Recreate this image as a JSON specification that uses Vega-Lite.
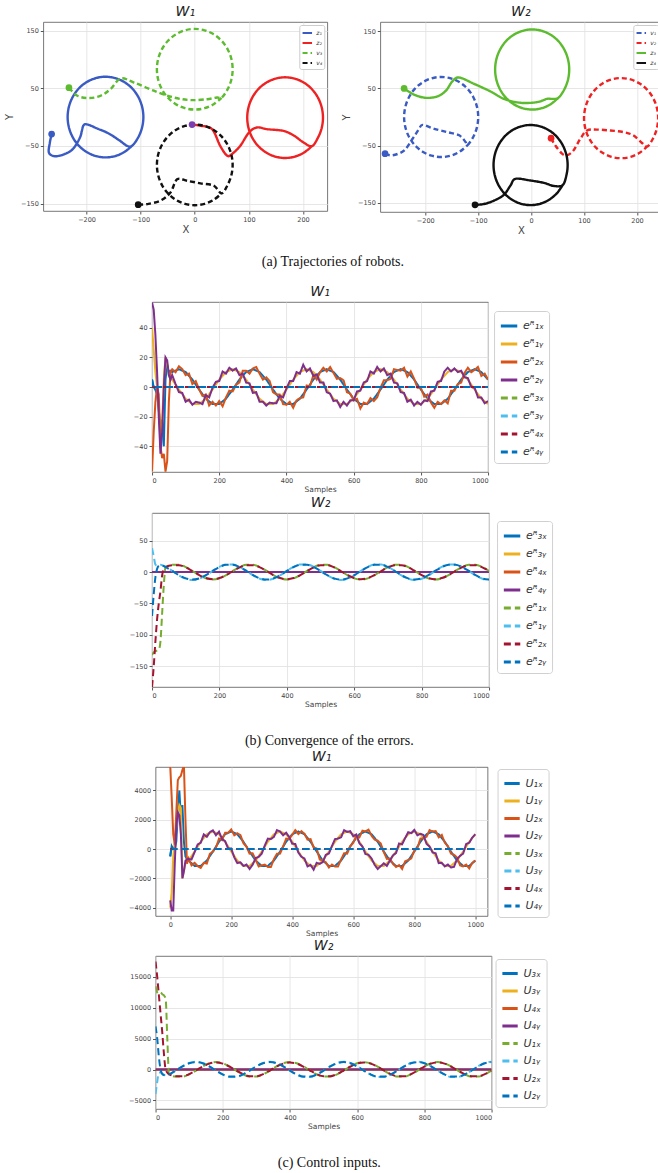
{
"$schema":"https://vega.github.io/schema/vega-lite/v6.json",
"background":"white",
"padding":{"left":4,"top":4,"right":0,"bottom":0},
"config":{
 "view":{"stroke":"#555","strokeWidth":0.8},
 "axis":{"domain":false,"grid":true,"gridColor":"#e0e0e0","gridWidth":0.8,"tickColor":"#555","tickSize":3,"labelFontSize":6.5,"labelColor":"#444","labelFont":"DejaVu Sans","titleFont":"DejaVu Sans","titleFontWeight":"normal","titleColor":"#444","labelPadding":2,"format":"d"},
 "title":{"font":"DejaVu Sans","fontStyle":"italic","fontWeight":"normal","fontSize":14,"offset":3,"frame":"group","anchor":"middle","color":"#222"},
 "legend":{"orient":"none","strokeColor":"#d0d0d0","fillColor":"white","padding":5,"cornerRadius":3,"labelFontSize":11,"labelFont":"DejaVu Sans","labelFontStyle":"italic","symbolStrokeWidth":3,"symbolSize":270,"rowPadding":2,"labelColor":"#333","title":null}
},
"datasets":{
"traj1":[
{"s":"z₁","i":0,"x":-264.6,"y":-29.5},{"s":"z₁","i":1,"x":-268,"y":-45},{"s":"z₁","i":2,"x":-269.5,"y":-62},{"s":"z₁","i":3,"x":-258,"y":-68},{"s":"z₁","i":4,"x":-240,"y":-64},{"s":"z₁","i":5,"x":-225,"y":-55},{"s":"z₁","i":6,"x":-212,"y":-35},{"s":"z₁","i":7,"x":-206,"y":-15},{"s":"z₁","i":8,"x":-198,"y":-13},{"s":"z₁","i":9,"x":-180,"y":-20},{"s":"z₁","i":10,"x":-160,"y":-28},{"s":"z₁","i":11,"x":-140,"y":-40},{"s":"z₁","i":12,"x":-125,"y":-50},
{"s":"z₁","i":13,"x":-115.5,"y":-49.5},{"s":"z₁","i":14,"x":-104.4,"y":-35},{"s":"z₁","i":15,"x":-97.4,"y":-18.1},{"s":"z₁","i":16,"x":-95,"y":0},{"s":"z₁","i":17,"x":-97.4,"y":18.1},{"s":"z₁","i":18,"x":-104.4,"y":35},{"s":"z₁","i":19,"x":-115.5,"y":49.5},{"s":"z₁","i":20,"x":-130,"y":60.6},{"s":"z₁","i":21,"x":-146.9,"y":67.6},{"s":"z₁","i":22,"x":-165,"y":70},{"s":"z₁","i":23,"x":-183.1,"y":67.6},{"s":"z₁","i":24,"x":-200,"y":60.6},{"s":"z₁","i":25,"x":-214.5,"y":49.5},{"s":"z₁","i":26,"x":-225.6,"y":35},{"s":"z₁","i":27,"x":-232.6,"y":18.1},{"s":"z₁","i":28,"x":-235,"y":0},{"s":"z₁","i":29,"x":-232.6,"y":-18.1},{"s":"z₁","i":30,"x":-225.6,"y":-35},{"s":"z₁","i":31,"x":-214.5,"y":-49.5},{"s":"z₁","i":32,"x":-200,"y":-60.6},{"s":"z₁","i":33,"x":-183.1,"y":-67.6},{"s":"z₁","i":34,"x":-165,"y":-70},{"s":"z₁","i":35,"x":-146.9,"y":-67.6},{"s":"z₁","i":36,"x":-130,"y":-60.6},{"s":"z₁","i":37,"x":-115.5,"y":-49.5},
{"s":"z₂","i":0,"x":-5,"y":-13},{"s":"z₂","i":1,"x":10.5,"y":-15},{"s":"z₂","i":2,"x":32,"y":-21},{"s":"z₂","i":3,"x":47,"y":-50},{"s":"z₂","i":4,"x":60,"y":-67},{"s":"z₂","i":5,"x":69,"y":-64},{"s":"z₂","i":6,"x":84,"y":-50},{"s":"z₂","i":7,"x":100,"y":-27},{"s":"z₂","i":8,"x":115,"y":-18},{"s":"z₂","i":9,"x":133.5,"y":-21},{"s":"z₂","i":10,"x":164,"y":-24},{"s":"z₂","i":11,"x":183,"y":-32},{"s":"z₂","i":12,"x":201,"y":-44},
{"s":"z₂","i":13,"x":216.5,"y":-50.5},{"s":"z₂","i":14,"x":227.6,"y":-36},{"s":"z₂","i":15,"x":234.6,"y":-19.1},{"s":"z₂","i":16,"x":237,"y":-1},{"s":"z₂","i":17,"x":234.6,"y":17.1},{"s":"z₂","i":18,"x":227.6,"y":34},{"s":"z₂","i":19,"x":216.5,"y":48.5},{"s":"z₂","i":20,"x":202,"y":59.6},{"s":"z₂","i":21,"x":185.1,"y":66.6},{"s":"z₂","i":22,"x":167,"y":69},{"s":"z₂","i":23,"x":148.9,"y":66.6},{"s":"z₂","i":24,"x":132,"y":59.6},{"s":"z₂","i":25,"x":117.5,"y":48.5},{"s":"z₂","i":26,"x":106.4,"y":34},{"s":"z₂","i":27,"x":99.4,"y":17.1},{"s":"z₂","i":28,"x":97,"y":-1},{"s":"z₂","i":29,"x":99.4,"y":-19.1},{"s":"z₂","i":30,"x":106.4,"y":-36},{"s":"z₂","i":31,"x":117.5,"y":-50.5},{"s":"z₂","i":32,"x":132,"y":-61.6},{"s":"z₂","i":33,"x":148.9,"y":-68.6},{"s":"z₂","i":34,"x":167,"y":-71},{"s":"z₂","i":35,"x":185.1,"y":-68.6},{"s":"z₂","i":36,"x":202,"y":-61.6},{"s":"z₂","i":37,"x":216.5,"y":-50.5},
{"s":"v₃","i":0,"x":-232.6,"y":51},{"s":"v₃","i":1,"x":-217,"y":37},{"s":"v₃","i":2,"x":-195.7,"y":33},{"s":"v₃","i":3,"x":-174,"y":37},{"s":"v₃","i":4,"x":-155.7,"y":48.6},{"s":"v₃","i":5,"x":-137,"y":67},{"s":"v₃","i":6,"x":-112.6,"y":60},{"s":"v₃","i":7,"x":-75.7,"y":45.7},{"s":"v₃","i":8,"x":-38.8,"y":34},{"s":"v₃","i":9,"x":-8,"y":29.5},{"s":"v₃","i":10,"x":22.8,"y":31},{"s":"v₃","i":11,"x":41,"y":34},
{"s":"v₃","i":12,"x":49.5,"y":33.5},{"s":"v₃","i":13,"x":60.6,"y":48},{"s":"v₃","i":14,"x":67.6,"y":64.9},{"s":"v₃","i":15,"x":70,"y":83},{"s":"v₃","i":16,"x":67.6,"y":101.1},{"s":"v₃","i":17,"x":60.6,"y":118},{"s":"v₃","i":18,"x":49.5,"y":132.5},{"s":"v₃","i":19,"x":35,"y":143.6},{"s":"v₃","i":20,"x":18.1,"y":150.6},{"s":"v₃","i":21,"x":0,"y":153},{"s":"v₃","i":22,"x":-18.1,"y":150.6},{"s":"v₃","i":23,"x":-35,"y":143.6},{"s":"v₃","i":24,"x":-49.5,"y":132.5},{"s":"v₃","i":25,"x":-60.6,"y":118},{"s":"v₃","i":26,"x":-67.6,"y":101.1},{"s":"v₃","i":27,"x":-70,"y":83},{"s":"v₃","i":28,"x":-67.6,"y":64.9},{"s":"v₃","i":29,"x":-60.6,"y":48},{"s":"v₃","i":30,"x":-49.5,"y":33.5},{"s":"v₃","i":31,"x":-35,"y":22.4},{"s":"v₃","i":32,"x":-18.1,"y":15.4},{"s":"v₃","i":33,"x":0,"y":13},{"s":"v₃","i":34,"x":18.1,"y":15.4},{"s":"v₃","i":35,"x":35,"y":22.4},{"s":"v₃","i":36,"x":49.5,"y":33.5},
{"s":"v₄","i":0,"x":-104.6,"y":-152},{"s":"v₄","i":1,"x":-88,"y":-151},{"s":"v₄","i":2,"x":-63.4,"y":-145},{"s":"v₄","i":3,"x":-45,"y":-131},{"s":"v₄","i":4,"x":-32.6,"y":-108},{"s":"v₄","i":5,"x":-14,"y":-110.6},{"s":"v₄","i":6,"x":10.5,"y":-115},{"s":"v₄","i":7,"x":35,"y":-119},
{"s":"v₄","i":8,"x":49.5,"y":-132.5},{"s":"v₄","i":9,"x":60.6,"y":-118},{"s":"v₄","i":10,"x":67.6,"y":-101.1},{"s":"v₄","i":11,"x":70,"y":-83},{"s":"v₄","i":12,"x":67.6,"y":-64.9},{"s":"v₄","i":13,"x":60.6,"y":-48},{"s":"v₄","i":14,"x":49.5,"y":-33.5},{"s":"v₄","i":15,"x":35,"y":-22.4},{"s":"v₄","i":16,"x":18.1,"y":-15.4},{"s":"v₄","i":17,"x":0,"y":-13},{"s":"v₄","i":18,"x":-18.1,"y":-15.4},{"s":"v₄","i":19,"x":-35,"y":-22.4},{"s":"v₄","i":20,"x":-49.5,"y":-33.5},{"s":"v₄","i":21,"x":-60.6,"y":-48},{"s":"v₄","i":22,"x":-67.6,"y":-64.9},{"s":"v₄","i":23,"x":-70,"y":-83},{"s":"v₄","i":24,"x":-67.6,"y":-101.1},{"s":"v₄","i":25,"x":-60.6,"y":-118},{"s":"v₄","i":26,"x":-49.5,"y":-132.5},{"s":"v₄","i":27,"x":-35,"y":-143.6},{"s":"v₄","i":28,"x":-18.1,"y":-150.6},{"s":"v₄","i":29,"x":0,"y":-153},{"s":"v₄","i":30,"x":18.1,"y":-150.6},{"s":"v₄","i":31,"x":35,"y":-143.6},{"s":"v₄","i":32,"x":49.5,"y":-132.5}
],
"dots1":[{"s":"z₁","x":-264.6,"y":-29.5},{"s":"z₂","x":-5,"y":-13},{"s":"v₃","x":-232.6,"y":51},{"s":"v₄","x":-104.6,"y":-152}],
"traj2":[
{"s":"v₁","i":0,"x":-276,"y":-64},{"s":"v₁","i":1,"x":-262,"y":-67},{"s":"v₁","i":2,"x":-240,"y":-58.5},{"s":"v₁","i":3,"x":-224,"y":-38},{"s":"v₁","i":4,"x":-211.6,"y":-20.7},{"s":"v₁","i":5,"x":-205,"y":-13.7},{"s":"v₁","i":6,"x":-183,"y":-20.7},{"s":"v₁","i":7,"x":-158,"y":-26.5},{"s":"v₁","i":8,"x":-136,"y":-32},{"s":"v₁","i":9,"x":-123.7,"y":-44},
{"s":"v₁","i":10,"x":-120.5,"y":-49.5},{"s":"v₁","i":11,"x":-109.4,"y":-35},{"s":"v₁","i":12,"x":-102.4,"y":-18.1},{"s":"v₁","i":13,"x":-100,"y":0},{"s":"v₁","i":14,"x":-102.4,"y":18.1},{"s":"v₁","i":15,"x":-109.4,"y":35},{"s":"v₁","i":16,"x":-120.5,"y":49.5},{"s":"v₁","i":17,"x":-135,"y":60.6},{"s":"v₁","i":18,"x":-151.9,"y":67.6},{"s":"v₁","i":19,"x":-170,"y":70},{"s":"v₁","i":20,"x":-188.1,"y":67.6},{"s":"v₁","i":21,"x":-205,"y":60.6},{"s":"v₁","i":22,"x":-219.5,"y":49.5},{"s":"v₁","i":23,"x":-230.6,"y":35},{"s":"v₁","i":24,"x":-237.6,"y":18.1},{"s":"v₁","i":25,"x":-240,"y":0},{"s":"v₁","i":26,"x":-237.6,"y":-18.1},{"s":"v₁","i":27,"x":-230.6,"y":-35},{"s":"v₁","i":28,"x":-219.5,"y":-49.5},{"s":"v₁","i":29,"x":-205,"y":-60.6},{"s":"v₁","i":30,"x":-188.1,"y":-67.6},{"s":"v₁","i":31,"x":-170,"y":-70},{"s":"v₁","i":32,"x":-151.9,"y":-67.6},{"s":"v₁","i":33,"x":-135,"y":-60.6},{"s":"v₁","i":34,"x":-120.5,"y":-49.5},
{"s":"v₂","i":0,"x":37.7,"y":-37},{"s":"v₂","i":1,"x":45.8,"y":-49.8},{"s":"v₂","i":2,"x":58.4,"y":-64},{"s":"v₂","i":3,"x":67.8,"y":-67},{"s":"v₂","i":4,"x":80,"y":-58.5},{"s":"v₂","i":5,"x":93,"y":-38},{"s":"v₂","i":6,"x":105.5,"y":-23.6},{"s":"v₂","i":7,"x":124,"y":-22},{"s":"v₂","i":8,"x":149.5,"y":-23.6},{"s":"v₂","i":9,"x":174.6,"y":-26.5},{"s":"v₂","i":10,"x":193,"y":-32},{"s":"v₂","i":11,"x":209,"y":-45},
{"s":"v₂","i":12,"x":219.5,"y":-51.5},{"s":"v₂","i":13,"x":230.6,"y":-37},{"s":"v₂","i":14,"x":237.6,"y":-20.1},{"s":"v₂","i":15,"x":240,"y":-2},{"s":"v₂","i":16,"x":237.6,"y":16.1},{"s":"v₂","i":17,"x":230.6,"y":33},{"s":"v₂","i":18,"x":219.5,"y":47.5},{"s":"v₂","i":19,"x":205,"y":58.6},{"s":"v₂","i":20,"x":188.1,"y":65.6},{"s":"v₂","i":21,"x":170,"y":68},{"s":"v₂","i":22,"x":151.9,"y":65.6},{"s":"v₂","i":23,"x":135,"y":58.6},{"s":"v₂","i":24,"x":120.5,"y":47.5},{"s":"v₂","i":25,"x":109.4,"y":33},{"s":"v₂","i":26,"x":102.4,"y":16.1},{"s":"v₂","i":27,"x":100,"y":-2},{"s":"v₂","i":28,"x":102.4,"y":-20.1},{"s":"v₂","i":29,"x":109.4,"y":-37},{"s":"v₂","i":30,"x":120.5,"y":-51.5},{"s":"v₂","i":31,"x":135,"y":-62.6},{"s":"v₂","i":32,"x":151.9,"y":-69.6},{"s":"v₂","i":33,"x":170,"y":-72},{"s":"v₂","i":34,"x":188.1,"y":-69.6},{"s":"v₂","i":35,"x":205,"y":-62.6},{"s":"v₂","i":36,"x":219.5,"y":-51.5},
{"s":"z₃","i":0,"x":-240,"y":50},{"s":"z₃","i":1,"x":-221,"y":39},{"s":"z₃","i":2,"x":-199,"y":33.5},{"s":"z₃","i":3,"x":-177,"y":36},{"s":"z₃","i":4,"x":-161,"y":46},{"s":"z₃","i":5,"x":-149,"y":62},{"s":"z₃","i":6,"x":-136,"y":69},{"s":"z₃","i":7,"x":-108,"y":58},{"s":"z₃","i":8,"x":-76.6,"y":44.6},{"s":"z₃","i":9,"x":-51.5,"y":31.7},{"s":"z₃","i":10,"x":-20,"y":24.8},{"s":"z₃","i":11,"x":11.3,"y":26},{"s":"z₃","i":12,"x":30,"y":31.7},{"s":"z₃","i":13,"x":39.6,"y":31.7},
{"s":"z₃","i":14,"x":51.5,"y":33.5},{"s":"z₃","i":15,"x":62.6,"y":48},{"s":"z₃","i":16,"x":69.6,"y":64.9},{"s":"z₃","i":17,"x":72,"y":83},{"s":"z₃","i":18,"x":69.6,"y":101.1},{"s":"z₃","i":19,"x":62.6,"y":118},{"s":"z₃","i":20,"x":51.5,"y":132.5},{"s":"z₃","i":21,"x":37,"y":143.6},{"s":"z₃","i":22,"x":20.1,"y":150.6},{"s":"z₃","i":23,"x":2,"y":153},{"s":"z₃","i":24,"x":-16.1,"y":150.6},{"s":"z₃","i":25,"x":-33,"y":143.6},{"s":"z₃","i":26,"x":-47.5,"y":132.5},{"s":"z₃","i":27,"x":-58.6,"y":118},{"s":"z₃","i":28,"x":-65.6,"y":101.1},{"s":"z₃","i":29,"x":-68,"y":83},{"s":"z₃","i":30,"x":-65.6,"y":64.9},{"s":"z₃","i":31,"x":-58.6,"y":48},{"s":"z₃","i":32,"x":-47.5,"y":33.5},{"s":"z₃","i":33,"x":-33,"y":22.4},{"s":"z₃","i":34,"x":-16.1,"y":15.4},{"s":"z₃","i":35,"x":2,"y":13},{"s":"z₃","i":36,"x":20.1,"y":15.4},{"s":"z₃","i":37,"x":37,"y":22.4},{"s":"z₃","i":38,"x":51.5,"y":33.5},
{"s":"z₄","i":0,"x":-106,"y":-153.5},{"s":"z₄","i":1,"x":-89,"y":-152},{"s":"z₄","i":2,"x":-70,"y":-146},{"s":"z₄","i":3,"x":-51.5,"y":-136},{"s":"z₄","i":4,"x":-39,"y":-119.7},{"s":"z₄","i":5,"x":-29.5,"y":-108},{"s":"z₄","i":6,"x":-1.3,"y":-111},{"s":"z₄","i":7,"x":23.9,"y":-115},{"s":"z₄","i":8,"x":42.7,"y":-120.5},
{"s":"z₄","i":9,"x":59.6,"y":-119},{"s":"z₄","i":10,"x":66.6,"y":-102.1},{"s":"z₄","i":11,"x":69,"y":-84},{"s":"z₄","i":12,"x":66.6,"y":-65.9},{"s":"z₄","i":13,"x":59.6,"y":-49},{"s":"z₄","i":14,"x":48.5,"y":-34.5},{"s":"z₄","i":15,"x":34,"y":-23.4},{"s":"z₄","i":16,"x":17.1,"y":-16.4},{"s":"z₄","i":17,"x":-1,"y":-14},{"s":"z₄","i":18,"x":-19.1,"y":-16.4},{"s":"z₄","i":19,"x":-36,"y":-23.4},{"s":"z₄","i":20,"x":-50.5,"y":-34.5},{"s":"z₄","i":21,"x":-61.6,"y":-49},{"s":"z₄","i":22,"x":-68.6,"y":-65.9},{"s":"z₄","i":23,"x":-71,"y":-84},{"s":"z₄","i":24,"x":-68.6,"y":-102.1},{"s":"z₄","i":25,"x":-61.6,"y":-119},{"s":"z₄","i":26,"x":-50.5,"y":-133.5},{"s":"z₄","i":27,"x":-36,"y":-144.6},{"s":"z₄","i":28,"x":-19.1,"y":-151.6},{"s":"z₄","i":29,"x":-1,"y":-154},{"s":"z₄","i":30,"x":17.1,"y":-151.6},{"s":"z₄","i":31,"x":34,"y":-144.6},{"s":"z₄","i":32,"x":48.5,"y":-133.5},{"s":"z₄","i":33,"x":59.6,"y":-119}
],
"dots2":[{"s":"v₁","x":-276,"y":-64},{"s":"v₂","x":37.7,"y":-37},{"s":"z₃","x":-240,"y":50},{"s":"z₄","x":-106,"y":-153.5}],
"eb1":[
{"t":0,"a":5,"b":40,"c":-57,"d":57,"e":0,"f":0,"g":0,"h":5},{"t":5,"a":0,"b":25,"c":-30,"d":52,"e":0,"f":0,"g":0,"h":-1},{"t":10,"a":-2,"b":10,"c":-10,"d":35,"e":0,"f":0,"g":0,"h":0},{"t":15,"a":-5,"b":0,"c":0,"d":10},{"t":20,"a":-15,"b":-15,"c":-5,"d":-20},{"t":25,"a":-30,"b":-30,"c":-40,"d":-45},{"t":30,"a":-22,"b":-25,"c":-48,"d":-30},{"t":35,"a":-40,"b":5,"c":-45,"d":0},{"t":40,"a":5,"b":20,"c":-57,"d":20},{"t":45,"a":15,"b":15,"c":-50,"d":18},{"t":50,"a":10,"b":8,"c":-10,"d":8},{"t":55,"a":11,"b":5,"c":10,"d":5},
{"t":60,"c":12,"d":8,"a":10.1,"b":5},{"t":70,"c":10,"d":2},{"t":80,"c":14,"d":-3.5,"a":12,"b":-1.7},{"t":90,"c":12,"d":-4},{"t":100,"c":8,"d":-10,"a":10.1,"b":-7.9},{"t":110,"c":9,"d":-8.5},{"t":120,"c":2,"d":-12,"a":5,"b":-11.5},{"t":130,"c":4,"d":-10},{"t":140,"c":-1.5,"d":-10.5,"a":-1.7,"b":-11.5},{"t":150,"c":-6,"d":-11.5},{"t":160,"c":-5,"d":-5.5,"a":-7.9,"b":-7.9},{"t":170,"c":-12.5,"d":-7},{"t":180,"c":-10,"d":-0.5,"a":-11.5,"b":-1.7},{"t":190,"c":-12.5,"d":3.5},{"t":200,"c":-9.5,"d":4,"a":-11.5,"b":5},{"t":210,"c":-13,"d":10.5},{"t":220,"c":-7,"d":9,"a":-7.9,"b":10.1},{"t":230,"c":-2.5,"d":13},{"t":240,"c":-3,"d":11,"a":-1.7,"b":12},{"t":250,"c":1.5,"d":12.5},{"t":260,"c":3,"d":8,"a":5,"b":10.1},{"t":270,"c":11,"d":9},{"t":280,"c":11,"d":3,"a":10.1,"b":5},{"t":290,"c":9,"d":2.5},{"t":300,"c":12.5,"d":-4,"a":12,"b":-1.7},{"t":310,"c":13.5,"d":-3.5},{"t":320,"c":9,"d":-10,"a":10.1,"b":-7.9},{"t":330,"c":5,"d":-10},{"t":340,"c":6.5,"d":-12.5,"a":5,"b":-11.5},{"t":350,"c":4,"d":-10.5},{"t":360,"c":-3.5,"d":-11,"a":-1.7,"b":-11.5},{"t":370,"c":-5,"d":-11},{"t":380,"c":-5,"d":-6,"a":-7.9,"b":-7.9},{"t":390,"c":-11.5,"d":-7},{"t":400,"c":-12,"d":-1,"a":-11.5,"b":-1.7},{"t":410,"c":-10,"d":4},{"t":420,"c":-14,"d":4,"a":-11.5,"b":5},{"t":430,"c":-9,"d":10},{"t":440,"c":-7.5,"d":9,"a":-7.9,"b":10.1},{"t":450,"c":-7,"d":15},{"t":460,"c":1,"d":10.5,"a":-1.7,"b":12},{"t":470,"c":0.5,"d":12.5},{"t":480,"c":8,"d":7.5,"a":5,"b":10.1},{"t":490,"c":5,"d":8.5},{"t":500,"c":10,"d":3,"a":10.1,"b":5},{"t":510,"c":13,"d":3},{"t":520,"c":10.5,"d":-3.5,"a":12,"b":-1.7},{"t":530,"c":13.5,"d":-4.5},{"t":540,"c":9.5,"d":-9.5,"a":10.1,"b":-7.9},{"t":550,"c":5.5,"d":-9},{"t":560,"c":6,"d":-13.5,"a":5,"b":-11.5},{"t":570,"c":4.5,"d":-10},{"t":580,"c":-3.5,"d":-12.5,"a":-1.7,"b":-11.5},{"t":590,"c":-4.5,"d":-9},{"t":600,"c":-9,"d":-9,"a":-7.9,"b":-7.9},{"t":610,"c":-8,"d":-3},{"t":620,"c":-14.5,"d":-2.5,"a":-11.5,"b":-1.7},{"t":630,"c":-10.5,"d":3},{"t":640,"c":-11.5,"d":4,"a":-11.5,"b":5},{"t":650,"c":-7.5,"d":10.5},{"t":660,"c":-9.5,"d":9,"a":-7.9,"b":10.1},{"t":670,"c":-7,"d":13.5},{"t":680,"c":-0.5,"d":10.5,"a":-1.7,"b":12},{"t":690,"c":4.5,"d":12.5},{"t":700,"c":4.5,"d":8,"a":5,"b":10.1},{"t":710,"c":5.5,"d":9},{"t":720,"c":12,"d":3,"a":10.1,"b":5},{"t":730,"c":11.5,"d":2.5},{"t":740,"c":11,"d":-3.5,"a":12,"b":-1.7},{"t":750,"c":13,"d":-4},{"t":760,"c":7,"d":-10,"a":10.1,"b":-7.9},{"t":770,"c":10.5,"d":-8.5},{"t":780,"c":5.5,"d":-12.5,"a":5,"b":-11.5},{"t":790,"c":-0.5,"d":-10},{"t":800,"c":-0.5,"d":-12,"a":-1.7,"b":-11.5},{"t":810,"c":-6.5,"d":-9},{"t":820,"c":-5,"d":-9.5,"a":-7.9,"b":-7.9},{"t":830,"c":-10.5,"d":-3},{"t":840,"c":-14,"d":-2.5,"a":-11.5,"b":-1.7},{"t":850,"c":-10,"d":3.5},{"t":860,"c":-11.5,"d":4,"a":-11.5,"b":5},{"t":870,"c":-9,"d":10.5},{"t":880,"c":-11,"d":13,"a":-7.9,"b":10.1},{"t":890,"c":-2.5,"d":10.5},{"t":900,"c":-2.5,"d":12.5,"a":-1.7,"b":12},{"t":910,"c":2,"d":10},{"t":920,"c":3,"d":11,"a":5,"b":10.1},{"t":930,"c":9.5,"d":6.5},{"t":940,"c":13,"d":6,"a":10.1,"b":5},{"t":950,"c":10,"d":0},{"t":960,"c":11.5,"d":-0.5,"a":12,"b":-1.7},{"t":970,"c":13.5,"d":-7},{"t":980,"c":7.5,"d":-7,"a":10.1,"b":-7.9},{"t":990,"c":9,"d":-11},{"t":1000,"c":5,"d":-9.5,"a":5,"b":-11.5,"e":0,"f":0,"g":0,"h":0}
],
"eb2":[
{"t":0,"a":0,"b":0,"c":0,"d":0,"e":-132,"f":38,"g":-183,"h":-70},{"t":5,"e":-128,"f":25,"g":-150,"h":-35},{"t":10,"e":-126,"f":12,"g":-110,"h":-8},{"t":15,"e":-125,"f":10,"g":-75,"h":5},{"t":20,"e":-124,"f":11,"g":-50,"h":10},{"t":25,"e":-110,"f":11.5,"g":-30,"h":11},{"t":30,"e":-65,"g":-5},{"t":35,"e":-20,"g":5},
{"t":40,"e":7.9,"g":7.5,"h":7.9,"f":8.3},{"t":60,"e":11.5,"g":10.9,"h":1.7,"f":1.8},{"t":80,"e":11.5,"g":10.9,"h":-5,"f":-5.3},{"t":100,"e":7.9,"g":7.5,"h":-10.1,"f":-10.6},{"t":120,"e":1.7,"g":1.6,"h":-12,"f":-12.6},{"t":140,"e":-5,"g":-4.8,"h":-10.1,"f":-10.6},{"t":160,"e":-10.1,"g":-9.6,"h":-5,"f":-5.3},{"t":180,"e":-12,"g":-11.4,"h":1.7,"f":1.8},{"t":200,"e":-10.1,"g":-9.6,"h":7.9,"f":8.3},{"t":220,"e":-5,"g":-4.8,"h":11.5,"f":12.1},{"t":240,"e":1.7,"g":1.6,"h":11.5,"f":12.1},
{"t":260,"e":7.9,"g":7.5,"h":7.9,"f":8.3},{"t":280,"e":11.5,"g":10.9,"h":1.7,"f":1.8},{"t":300,"e":11.5,"g":10.9,"h":-5,"f":-5.3},{"t":320,"e":7.9,"g":7.5,"h":-10.1,"f":-10.6},{"t":340,"e":1.7,"g":1.6,"h":-12,"f":-12.6},{"t":360,"e":-5,"g":-4.8,"h":-10.1,"f":-10.6},{"t":380,"e":-10.1,"g":-9.6,"h":-5,"f":-5.3},{"t":400,"e":-12,"g":-11.4,"h":1.7,"f":1.8},{"t":420,"e":-10.1,"g":-9.6,"h":7.9,"f":8.3},{"t":440,"e":-5,"g":-4.8,"h":11.5,"f":12.1},{"t":460,"e":1.7,"g":1.6,"h":11.5,"f":12.1},
{"t":480,"e":7.9,"g":7.5,"h":7.9,"f":8.3},{"t":500,"e":11.5,"g":10.9,"h":1.7,"f":1.8},{"t":520,"e":11.5,"g":10.9,"h":-5,"f":-5.3},{"t":540,"e":7.9,"g":7.5,"h":-10.1,"f":-10.6},{"t":560,"e":1.7,"g":1.6,"h":-12,"f":-12.6},{"t":580,"e":-5,"g":-4.8,"h":-10.1,"f":-10.6},{"t":600,"e":-10.1,"g":-9.6,"h":-5,"f":-5.3},{"t":620,"e":-12,"g":-11.4,"h":1.7,"f":1.8},{"t":640,"e":-10.1,"g":-9.6,"h":7.9,"f":8.3},{"t":660,"e":-5,"g":-4.8,"h":11.5,"f":12.1},{"t":680,"e":1.7,"g":1.6,"h":11.5,"f":12.1},
{"t":700,"e":7.9,"g":7.5,"h":7.9,"f":8.3},{"t":720,"e":11.5,"g":10.9,"h":1.7,"f":1.8},{"t":740,"e":11.5,"g":10.9,"h":-5,"f":-5.3},{"t":760,"e":7.9,"g":7.5,"h":-10.1,"f":-10.6},{"t":780,"e":1.7,"g":1.6,"h":-12,"f":-12.6},{"t":800,"e":-5,"g":-4.8,"h":-10.1,"f":-10.6},{"t":820,"e":-10.1,"g":-9.6,"h":-5,"f":-5.3},{"t":840,"e":-12,"g":-11.4,"h":1.7,"f":1.8},{"t":860,"e":-10.1,"g":-9.6,"h":7.9,"f":8.3},{"t":880,"e":-5,"g":-4.8,"h":11.5,"f":12.1},{"t":900,"e":1.7,"g":1.6,"h":11.5,"f":12.1},
{"t":920,"e":7.9,"g":7.5,"h":7.9,"f":8.3},{"t":940,"e":11.5,"g":10.9,"h":1.7,"f":1.8},{"t":960,"e":11.5,"g":10.9,"h":-5,"f":-5.3},{"t":980,"e":7.9,"g":7.5,"h":-10.1,"f":-10.6},{"t":1000,"e":1.7,"g":1.6,"h":-12,"f":-12.6,"a":0,"b":0,"c":0,"d":0}
],
"uc1":[
{"t":0,"a":-500,"b":-4000,"c":5700,"d":-3500,"e":0,"f":0,"g":0,"h":-500},{"t":5,"a":200,"b":-3000,"c":3500,"d":-4200,"e":0,"f":0,"g":0,"h":200},{"t":10,"a":0,"b":-500,"c":1000,"d":-4200,"e":0,"f":0,"g":0,"h":0},{"t":15,"a":100,"b":500,"c":300,"d":-1000},{"t":20,"a":500,"b":1500,"c":2500,"d":1500},{"t":25,"a":2500,"b":2500,"c":4700,"d":2500},{"t":30,"a":4000,"b":3000,"c":4900,"d":2300},{"t":35,"a":2200,"b":2800,"c":5000,"d":1000},{"t":40,"a":3000,"b":-2000,"c":5400,"d":-2000},{"t":45,"a":500,"b":-1500,"c":5700,"d":-1500},{"t":50,"a":-500,"b":-1000,"c":2000,"d":-800},{"t":55,"a":-700,"b":-800,"c":-1000,"d":-700},
{"t":60,"c":-646,"d":-681,"a":-786,"b":-786},{"t":70,"c":-1115,"d":-708},{"t":80,"c":-941,"d":-206,"a":-1151,"b":-171},{"t":90,"c":-1165,"d":311},{"t":100,"c":-1291,"d":428,"a":-1151,"b":498},{"t":110,"c":-940,"d":996},{"t":120,"c":-996,"d":835,"a":-786,"b":1010},{"t":130,"c":-323,"d":1151},{"t":140,"c":-171,"d":1270,"a":-171,"b":1200},{"t":150,"c":101,"d":941},{"t":160,"c":708,"d":1185,"a":498,"b":1010},{"t":170,"c":611,"d":681},{"t":180,"c":1115,"d":533,"a":1010,"b":498},{"t":190,"c":1116,"d":31},{"t":200,"c":1340,"d":39,"a":1200,"b":-171},{"t":210,"c":941,"d":-568},{"t":220,"c":1080,"d":-961,"a":1010,"b":-786},{"t":230,"c":961,"d":-905},{"t":240,"c":393,"d":-1151,"a":498,"b":-1151},{"t":250,"c":171,"d":-1060},{"t":260,"c":-311,"d":-1361,"a":-171,"b":-1151},{"t":270,"c":-288,"d":-1080},
{"t":280,"c":-716,"d":-611,"a":-786,"b":-786},{"t":290,"c":-1185,"d":-533},{"t":300,"c":-1116,"d":-311,"a":-1151,"b":-171},{"t":310,"c":-1060,"d":241},{"t":320,"c":-1221,"d":708,"a":-1151,"b":498},{"t":330,"c":-1220,"d":681},{"t":340,"c":-681,"d":835,"a":-786,"b":1010},{"t":350,"c":-323,"d":1291},{"t":360,"c":-311,"d":1200,"a":-171,"b":1200},{"t":370,"c":171,"d":941},{"t":380,"c":708,"d":1115,"a":498,"b":1010},{"t":390,"c":681,"d":821},{"t":400,"c":975,"d":358,"a":1010,"b":498},{"t":410,"c":1291,"d":346},{"t":420,"c":1025,"d":-241,"a":1200,"b":-171},{"t":430,"c":1221,"d":-533},{"t":440,"c":1045,"d":-646,"a":1010,"b":-786},{"t":450,"c":646,"d":-1185},{"t":460,"c":673,"d":-1081,"a":498,"b":-1151},{"t":470,"c":101,"d":-1410},{"t":480,"c":39,"d":-941,"a":-171,"b":-1151},{"t":490,"c":-708,"d":-1010},
{"t":500,"c":-786,"d":-891,"a":-786,"b":-786},{"t":510,"c":-905,"d":-393},{"t":520,"c":-1256,"d":-311,"a":-1151,"b":-171},{"t":530,"c":-1060,"d":206},{"t":540,"c":-1186,"d":673,"a":-1151,"b":498},{"t":550,"c":-1185,"d":716},{"t":560,"c":-716,"d":800,"a":-786,"b":1010},{"t":570,"c":-288,"d":1291},{"t":580,"c":-311,"d":1165,"a":-171,"b":1200},{"t":590,"c":206,"d":1221},{"t":600,"c":428,"d":870,"a":498,"b":1010},{"t":610,"c":926,"d":996},{"t":620,"c":800,"d":393,"a":1010,"b":498},{"t":630,"c":1256,"d":171},{"t":640,"c":1200,"d":-346,"a":1200,"b":-171},{"t":650,"c":1326,"d":-393},{"t":660,"c":905,"d":-646,"a":1010,"b":-786},{"t":670,"c":646,"d":-1080},{"t":680,"c":568,"d":-1361,"a":498,"b":-1151},{"t":690,"c":381,"d":-1165},{"t":700,"c":-206,"d":-976,"a":-171,"b":-1151},{"t":710,"c":-673,"d":-1150},
{"t":720,"c":-646,"d":-786,"a":-786,"b":-786},{"t":730,"c":-1010,"d":-428},{"t":740,"c":-1221,"d":-276,"a":-1151,"b":-171},{"t":750,"c":-1095,"d":381},{"t":760,"c":-1361,"d":323,"a":-1151,"b":498},{"t":770,"c":-835,"d":751},{"t":780,"c":-751,"d":1150,"a":-786,"b":1010},{"t":790,"c":-638,"d":1081},{"t":800,"c":-101,"d":1305,"a":-171,"b":1200},{"t":810,"c":66,"d":941},{"t":820,"c":708,"d":1045,"a":498,"b":1010},{"t":830,"c":751,"d":961},{"t":840,"c":835,"d":358,"a":1010,"b":498},{"t":850,"c":1291,"d":171},{"t":860,"c":1200,"d":-241,"a":1200,"b":-171},{"t":870,"c":1221,"d":-288},{"t":880,"c":800,"d":-961,"a":1010,"b":-786},{"t":890,"c":961,"d":-940},{"t":900,"c":428,"d":-1186,"a":498,"b":-1151},{"t":910,"c":206,"d":-1060},{"t":920,"c":-311,"d":-1256,"a":-171,"b":-1151},{"t":930,"c":-393,"d":-1220},
{"t":940,"c":-576,"d":-681,"a":-786,"b":-786},{"t":950,"c":-1115,"d":-463},{"t":960,"c":-1186,"d":-311,"a":-1151,"b":-171},{"t":970,"c":-1060,"d":346},{"t":980,"c":-1326,"d":428,"a":-1151,"b":498},{"t":990,"c":-940,"d":786},{"t":1000,"c":-786,"d":1010,"a":-786,"b":1010,"e":0,"f":0,"g":0,"h":0}
],
"uc2":[
{"t":0,"a":0,"b":0,"c":0,"d":0,"e":13500,"f":-4000,"g":17500,"h":7000},{"t":5,"e":12500,"f":-2000,"g":15000,"h":5000},{"t":10,"e":12300,"f":-500,"g":12000,"h":2000},{"t":15,"e":12500,"f":-500,"g":9000,"h":0},{"t":20,"e":12200,"f":-700,"g":6000,"h":-700},{"t":25,"e":12000,"f":-850,"g":2500,"h":-900},{"t":30,"e":11500,"f":-900,"g":0,"h":-950},{"t":35,"e":5000,"g":-500},
{"t":40,"e":-786,"g":-747,"h":-786,"f":-825},{"t":60,"e":-1151,"g":-1093,"h":-171,"f":-180},{"t":80,"e":-1151,"g":-1093,"h":498,"f":523},{"t":100,"e":-786,"g":-747,"h":1010,"f":1061},{"t":120,"e":-171,"g":-162,"h":1200,"f":1260},{"t":140,"e":498,"g":473,"h":1010,"f":1061},{"t":160,"e":1010,"g":960,"h":498,"f":523},{"t":180,"e":1200,"g":1140,"h":-171,"f":-180},{"t":200,"e":1010,"g":960,"h":-786,"f":-825},{"t":220,"e":498,"g":473,"h":-1151,"f":-1209},{"t":240,"e":-171,"g":-162,"h":-1151,"f":-1209},
{"t":260,"e":-786,"g":-747,"h":-786,"f":-825},{"t":280,"e":-1151,"g":-1093,"h":-171,"f":-180},{"t":300,"e":-1151,"g":-1093,"h":498,"f":523},{"t":320,"e":-786,"g":-747,"h":1010,"f":1061},{"t":340,"e":-171,"g":-162,"h":1200,"f":1260},{"t":360,"e":498,"g":473,"h":1010,"f":1061},{"t":380,"e":1010,"g":960,"h":498,"f":523},{"t":400,"e":1200,"g":1140,"h":-171,"f":-180},{"t":420,"e":1010,"g":960,"h":-786,"f":-825},{"t":440,"e":498,"g":473,"h":-1151,"f":-1209},{"t":460,"e":-171,"g":-162,"h":-1151,"f":-1209},
{"t":480,"e":-786,"g":-747,"h":-786,"f":-825},{"t":500,"e":-1151,"g":-1093,"h":-171,"f":-180},{"t":520,"e":-1151,"g":-1093,"h":498,"f":523},{"t":540,"e":-786,"g":-747,"h":1010,"f":1061},{"t":560,"e":-171,"g":-162,"h":1200,"f":1260},{"t":580,"e":498,"g":473,"h":1010,"f":1061},{"t":600,"e":1010,"g":960,"h":498,"f":523},{"t":620,"e":1200,"g":1140,"h":-171,"f":-180},{"t":640,"e":1010,"g":960,"h":-786,"f":-825},{"t":660,"e":498,"g":473,"h":-1151,"f":-1209},{"t":680,"e":-171,"g":-162,"h":-1151,"f":-1209},
{"t":700,"e":-786,"g":-747,"h":-786,"f":-825},{"t":720,"e":-1151,"g":-1093,"h":-171,"f":-180},{"t":740,"e":-1151,"g":-1093,"h":498,"f":523},{"t":760,"e":-786,"g":-747,"h":1010,"f":1061},{"t":780,"e":-171,"g":-162,"h":1200,"f":1260},{"t":800,"e":498,"g":473,"h":1010,"f":1061},{"t":820,"e":1010,"g":960,"h":498,"f":523},{"t":840,"e":1200,"g":1140,"h":-171,"f":-180},{"t":860,"e":1010,"g":960,"h":-786,"f":-825},{"t":880,"e":498,"g":473,"h":-1151,"f":-1209},{"t":900,"e":-171,"g":-162,"h":-1151,"f":-1209},
{"t":920,"e":-786,"g":-747,"h":-786,"f":-825},{"t":940,"e":-1151,"g":-1093,"h":-171,"f":-180},{"t":960,"e":-1151,"g":-1093,"h":498,"f":523},{"t":980,"e":-786,"g":-747,"h":1010,"f":1061},{"t":1000,"e":-171,"g":-162,"h":1200,"f":1260,"a":0,"b":0,"c":0,"d":0}
]
},
"spacing":0,
"center":true,
"resolve":{"scale":{"color":"independent","strokeDash":"independent","fill":"independent"}},
"vconcat":[
{"hconcat":[
 {"width":284,"height":189,"title":{"text":"W₁"},
  "layer":[
   {"data":{"name":"traj1"},"mark":{"type":"line","interpolate":"cardinal","strokeWidth":2.4,"clip":true},
    "encoding":{
     "x":{"field":"x","type":"quantitative","scale":{"domain":[-280,245],"nice":false,"zero":false},"axis":{"title":"X","values":[-200,-100,0,100,200],"titleFontSize":10,"titlePadding":2}},
     "y":{"field":"y","type":"quantitative","scale":{"domain":[-163,165],"nice":false,"zero":false},"axis":{"title":"Y","values":[-150,-100,-50,0,50,100,150],"titleFontSize":10,"titlePadding":6}},
     "order":{"field":"i","type":"quantitative"},
     "color":{"field":"s","type":"nominal","scale":{"domain":["z₁","z₂","v₃","v₄"],"range":["#3a5bc4","#ee2222","#5cbb2e","#111111"]},"legend":{"orient":"top-right","offset":3,"padding":2,"strokeColor":"#ccc","cornerRadius":2,"labelFontSize":6,"symbolSize":90,"symbolStrokeWidth":2,"rowPadding":0,"labelOffset":3}},
     "strokeDash":{"field":"s","type":"nominal","scale":{"domain":["z₁","z₂","v₃","v₄"],"range":[[1,0],[1,0],[5,3],[5,3]]},"legend":{"orient":"top-right","offset":3,"padding":2,"strokeColor":"#ccc","cornerRadius":2,"labelFontSize":6,"symbolSize":90,"symbolStrokeWidth":2,"rowPadding":0,"labelOffset":3}}
    }},
   {"data":{"name":"dots1"},"mark":{"type":"point","filled":true,"size":45,"opacity":1,"clip":true},
    "encoding":{
     "x":{"field":"x","type":"quantitative"},
     "y":{"field":"y","type":"quantitative"},
     "fill":{"field":"s","type":"nominal","scale":{"domain":["z₁","z₂","v₃","v₄"],"range":["#3a5bc4","#7a3fb0","#5cbb2e","#111111"]},"legend":null}
    }}
  ]},
 {"width":281,"height":190,"title":{"text":"W₂"},
  "layer":[
   {"data":{"name":"traj2"},"mark":{"type":"line","interpolate":"cardinal","strokeWidth":2.4,"clip":true},
    "encoding":{
     "x":{"field":"x","type":"quantitative","scale":{"domain":[-285,246],"nice":false,"zero":false},"axis":{"title":"X","values":[-200,-100,0,100,200],"titleFontSize":10,"titlePadding":2}},
     "y":{"field":"y","type":"quantitative","scale":{"domain":[-166,166],"nice":false,"zero":false},"axis":{"title":"Y","values":[-150,-100,-50,0,50,100,150],"titleFontSize":10,"titlePadding":6}},
     "order":{"field":"i","type":"quantitative"},
     "color":{"field":"s","type":"nominal","scale":{"domain":["v₁","v₂","z₃","z₄"],"range":["#3a5bc4","#ee2222","#5cbb2e","#111111"]},"legend":{"orient":"top-right","offset":3,"padding":2,"strokeColor":"#ccc","cornerRadius":2,"labelFontSize":6,"symbolSize":90,"symbolStrokeWidth":2,"rowPadding":0,"labelOffset":3}},
     "strokeDash":{"field":"s","type":"nominal","scale":{"domain":["v₁","v₂","z₃","z₄"],"range":[[5,3],[5,3],[1,0],[1,0]]},"legend":{"orient":"top-right","offset":3,"padding":2,"strokeColor":"#ccc","cornerRadius":2,"labelFontSize":6,"symbolSize":90,"symbolStrokeWidth":2,"rowPadding":0,"labelOffset":3}}
    }},
   {"data":{"name":"dots2"},"mark":{"type":"point","filled":true,"size":45,"opacity":1,"clip":true},
    "encoding":{
     "x":{"field":"x","type":"quantitative"},
     "y":{"field":"y","type":"quantitative"},
     "fill":{"field":"s","type":"nominal","scale":{"domain":["v₁","v₂","z₃","z₄"],"range":["#3a5bc4","#ee2222","#5cbb2e","#111111"]},"legend":null}
    }}
  ]}
 ],
 "spacing":12,
 "resolve":{"scale":{"color":"independent","strokeDash":"independent","fill":"independent"}},
 "title":{"text":["(a) Trajectories of robots."," "],"lineHeight":15,"orient":"bottom","anchor":"middle","frame":"bounds","font":"Liberation Serif","fontSize":14,"fontStyle":"normal","fontWeight":"normal","color":"#111","offset":19}
},
{"vconcat":[
 {"width":336,"height":170,"title":{"text":"W₁"},
  "data":{"name":"eb1"},
  "transform":[{"fold":["a","b","c","d","e","f","g","h"],"as":["s","v"]},{"filter":"isValid(datum.v)"}],
  "mark":{"type":"line","strokeWidth":2,"clip":true},
  "encoding":{
   "x":{"field":"t","type":"quantitative","scale":{"domain":[0,1000],"nice":false},"axis":{"title":"Samples","values":[0,200,400,600,800,1000],"titleFontSize":7.5,"titlePadding":2}},
   "y":{"field":"v","type":"quantitative","scale":{"domain":[-57.3,57.3],"nice":false,"zero":false},"axis":{"title":null,"values":[-40,-20,0,20,40],"minExtent":46}},
   "color":{"field":"s","type":"nominal","scale":{"domain":["a","b","c","d","e","f","g","h"],"range":["#0072BD","#EDB120","#D95319","#7E2F8E","#77AC30","#4DBEEE","#A2142F","#0072BD"]},"legend":{"legendX":342,"legendY":9,"labelExpr":"['eᴿ₁ₓ','eᴿ₁ᵧ','eᴿ₂ₓ','eᴿ₂ᵧ','eᴿ₃ₓ','eᴿ₃ᵧ','eᴿ₄ₓ','eᴿ₄ᵧ'][indexof('abcdefgh', datum.value)]"}},
   "strokeDash":{"field":"s","type":"nominal","scale":{"domain":["a","b","c","d","e","f","g","h"],"range":[[1,0],[1,0],[1,0],[1,0],[7,4],[7,4],[7,4],[7,4]]},"legend":{"legendX":342,"legendY":9,"labelExpr":"['eᴿ₁ₓ','eᴿ₁ᵧ','eᴿ₂ₓ','eᴿ₂ᵧ','eᴿ₃ₓ','eᴿ₃ᵧ','eᴿ₄ₓ','eᴿ₄ᵧ'][indexof('abcdefgh', datum.value)]"}}
  }},
 {"width":337,"height":174,"title":{"text":"W₂"},
  "data":{"name":"eb2"},
  "transform":[{"fold":["a","b","c","d","e","f","g","h"],"as":["s","v"]},{"filter":"isValid(datum.v)"}],
  "mark":{"type":"line","strokeWidth":2,"clip":true,"interpolate":"monotone"},
  "encoding":{
   "x":{"field":"t","type":"quantitative","scale":{"domain":[0,1000],"nice":false},"axis":{"title":"Samples","values":[0,200,400,600,800,1000],"titleFontSize":7.5,"titlePadding":2}},
   "y":{"field":"v","type":"quantitative","scale":{"domain":[-183,94],"nice":false,"zero":false},"axis":{"title":null,"values":[-150,-100,-50,0,50],"minExtent":46}},
   "color":{"field":"s","type":"nominal","scale":{"domain":["a","b","c","d","e","f","g","h"],"range":["#0072BD","#EDB120","#D95319","#7E2F8E","#77AC30","#4DBEEE","#A2142F","#0072BD"]},"legend":{"legendX":345,"legendY":8,"labelExpr":"['eᴿ₃ₓ','eᴿ₃ᵧ','eᴿ₄ₓ','eᴿ₄ᵧ','eᴿ₁ₓ','eᴿ₁ᵧ','eᴿ₂ₓ','eᴿ₂ᵧ'][indexof('abcdefgh', datum.value)]"}},
   "strokeDash":{"field":"s","type":"nominal","scale":{"domain":["a","b","c","d","e","f","g","h"],"range":[[1,0],[1,0],[1,0],[1,0],[7,4],[7,4],[7,4],[7,4]]},"legend":{"legendX":345,"legendY":8,"labelExpr":"['eᴿ₃ₓ','eᴿ₃ᵧ','eᴿ₄ₓ','eᴿ₄ᵧ','eᴿ₁ₓ','eᴿ₁ᵧ','eᴿ₂ₓ','eᴿ₂ᵧ'][indexof('abcdefgh', datum.value)]"}}
  }}
 ],
 "spacing":1,
 "resolve":{"scale":{"color":"independent","strokeDash":"independent"}},
 "title":{"text":"(b) Convergence of the errors.","orient":"bottom","anchor":"middle","frame":"bounds","font":"Liberation Serif","fontSize":14,"fontStyle":"normal","fontWeight":"normal","color":"#111","offset":26}
},
{"vconcat":[
 {"width":332,"height":149,"title":{"text":"W₁"},
  "data":{"name":"uc1"},
  "transform":[{"fold":["a","b","c","d","e","f","g","h"],"as":["s","v"]},{"filter":"isValid(datum.v)"}],
  "mark":{"type":"line","strokeWidth":2,"clip":true},
  "encoding":{
   "x":{"field":"t","type":"quantitative","scale":{"domain":[-48,1040],"nice":false,"zero":false},"axis":{"title":"Samples","values":[0,200,400,600,800,1000],"titleFontSize":7.5,"titlePadding":2}},
   "y":{"field":"v","type":"quantitative","scale":{"domain":[-4570,5600],"nice":false,"zero":false},"axis":{"title":null,"values":[-4000,-2000,0,2000,4000],"minExtent":46}},
   "color":{"field":"s","type":"nominal","scale":{"domain":["a","b","c","d","e","f","g","h"],"range":["#0072BD","#EDB120","#D95319","#7E2F8E","#77AC30","#4DBEEE","#A2142F","#0072BD"]},"legend":{"legendX":342,"legendY":2,"symbolSize":235,"rowPadding":1.5,"labelExpr":"['U₁ₓ','U₁ᵧ','U₂ₓ','U₂ᵧ','U₃ₓ','U₃ᵧ','U₄ₓ','U₄ᵧ'][indexof('abcdefgh', datum.value)]"}},
   "strokeDash":{"field":"s","type":"nominal","scale":{"domain":["a","b","c","d","e","f","g","h"],"range":[[1,0],[1,0],[1,0],[1,0],[7,4],[7,4],[7,4],[7,4]]},"legend":{"legendX":342,"legendY":2,"symbolSize":235,"rowPadding":1.5,"labelExpr":"['U₁ₓ','U₁ᵧ','U₂ₓ','U₂ᵧ','U₃ₓ','U₃ᵧ','U₄ₓ','U₄ᵧ'][indexof('abcdefgh', datum.value)]"}}
  }},
 {"width":336,"height":153,"title":{"text":"W₂"},
  "data":{"name":"uc2"},
  "transform":[{"fold":["a","b","c","d","e","f","g","h"],"as":["s","v"]},{"filter":"isValid(datum.v)"}],
  "mark":{"type":"line","strokeWidth":2,"clip":true,"interpolate":"monotone"},
  "encoding":{
   "x":{"field":"t","type":"quantitative","scale":{"domain":[0,1000],"nice":false},"axis":{"title":"Samples","values":[0,200,400,600,800,1000],"titleFontSize":7.5,"titlePadding":2}},
   "y":{"field":"v","type":"quantitative","scale":{"domain":[-6400,18400],"nice":false,"zero":false},"axis":{"title":null,"values":[-5000,0,5000,10000,15000],"minExtent":46}},
   "color":{"field":"s","type":"nominal","scale":{"domain":["a","b","c","d","e","f","g","h"],"range":["#0072BD","#EDB120","#D95319","#7E2F8E","#77AC30","#4DBEEE","#A2142F","#0072BD"]},"legend":{"legendX":340,"legendY":3,"symbolSize":235,"rowPadding":1.5,"labelExpr":"['U₃ₓ','U₃ᵧ','U₄ₓ','U₄ᵧ','U₁ₓ','U₁ᵧ','U₂ₓ','U₂ᵧ'][indexof('abcdefgh', datum.value)]"}},
   "strokeDash":{"field":"s","type":"nominal","scale":{"domain":["a","b","c","d","e","f","g","h"],"range":[[1,0],[1,0],[1,0],[1,0],[7,4],[7,4],[7,4],[7,4]]},"legend":{"legendX":340,"legendY":3,"symbolSize":235,"rowPadding":1.5,"labelExpr":"['U₃ₓ','U₃ᵧ','U₄ₓ','U₄ᵧ','U₁ₓ','U₁ᵧ','U₂ₓ','U₂ᵧ'][indexof('abcdefgh', datum.value)]"}}
  }}
 ],
 "spacing":0,
 "resolve":{"scale":{"color":"independent","strokeDash":"independent"}},
 "title":{"text":"(c) Control inputs.","orient":"bottom","anchor":"middle","frame":"bounds","font":"Liberation Serif","fontSize":14,"fontStyle":"normal","fontWeight":"normal","color":"#111","offset":26}
}
]
}
